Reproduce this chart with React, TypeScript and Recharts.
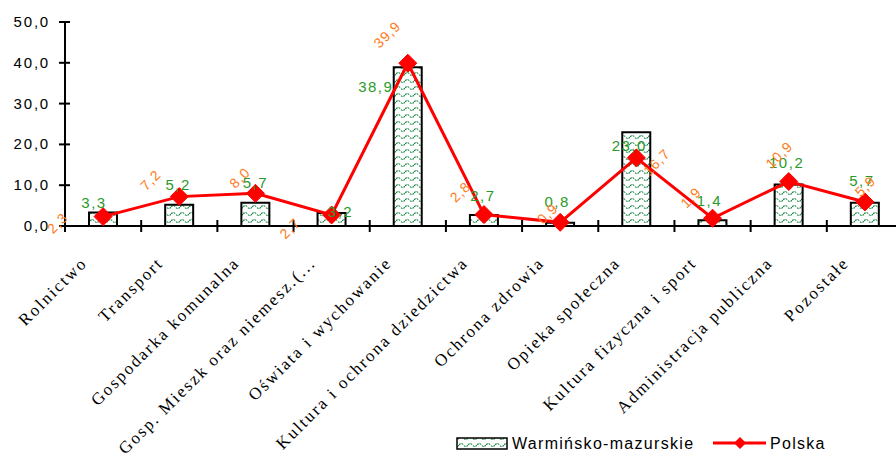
import React from 'react';
import { ComposedChart, Bar, Line, XAxis, YAxis } from 'recharts';

const categories = [
  'Rolnictwo',
  'Transport',
  'Gospodarka komunalna',
  'Gosp. Mieszk oraz niemesz.(...',
  'Oświata i wychowanie',
  'Kultura i ochrona dziedzictwa',
  'Ochrona zdrowia',
  'Opieka społeczna',
  'Kultura fizyczna i sport',
  'Administracja publiczna',
  'Pozostałe',
];
const wmValues = [3.3, 5.2, 5.7, 3.2, 38.9, 2.7, 0.8, 23.0, 1.4, 10.2, 5.7];
const plValues = [2.3, 7.2, 8.0, 2.7, 39.9, 2.8, 0.9, 16.7, 1.9, 10.9, 5.9];
const yTicks = [0, 10, 20, 30, 40, 50];
const seriesNames = ['Warmińsko-mazurskie', 'Polska'];

const data = categories.map((c, i) => ({ name: c, wm: wmValues[i], pl: plValues[i] }));

// label offsets (style only)
const greenOffsets = [[-9, -11], [-1, -21], [0, -21], [9, -2], [-32, 19], [-1, -20], [-3, -22], [-7, 13], [-3, -20], [-2, -22], [-3, -23]];
const orangeOffsets = [[-45, 7], [-28, -16], [-15, -15], [-41, 14], [-20, -28], [-23, -22], [-12, -8], [21, 5], [-21, -20], [-9, -26], [1, -15]];

const fmt = (v: number) => v.toFixed(1).replace('.', ',');
const BAND = 838 / 11;
const GREEN = '#2a9a2a';
const ORANGE = '#ff7a1a';
const SANS = 'Arial, "Liberation Sans", sans-serif';

const XTick = (props: any) => {
  const { x, y, payload } = props;
  return (
    <g>
      <line x1={x - BAND / 2} x2={x - BAND / 2} y1={y - 6} y2={y + 6} stroke="#000" strokeWidth={2} />
      <text
        x={x - 15}
        y={y + 38}
        transform={`rotate(-45 ${x - 15} ${y + 38})`}
        textAnchor="end"
        fontFamily='"Liberation Serif", "Times New Roman", serif'
        fontSize={17}
        letterSpacing={2}
        fill="#000"
      >
        {payload.value}
      </text>
    </g>
  );
};

const YTick = (props: any) => {
  const { x, y, payload } = props;
  return (
    <g>
      <line x1={x - 6} x2={x + 5} y1={y} y2={y} stroke="#000" strokeWidth={2} />
      <text x={x - 15} y={y + 5} textAnchor="end" fontFamily={SANS} fontSize={15} letterSpacing={1.8} fill="#000">
        {fmt(payload.value)}
      </text>
    </g>
  );
};

const barLabel = (props: any) => {
  const { x, y, width, value, index } = props;
  const o = greenOffsets[index] || [0, -21];
  return (
    <text
      key={`g${index}`}
      x={x + width / 2 + o[0]}
      y={y + o[1] + 6}
      textAnchor="middle"
      fontFamily={SANS}
      fontSize={15}
      letterSpacing={1.5}
      fill={GREEN}
    >
      {fmt(value)}
    </text>
  );
};

const lineLabel = (props: any) => {
  const { x, y, value, index } = props;
  const o = orangeOffsets[index] || [0, -15];
  const cx = x + o[0];
  const cy = y + o[1];
  return (
    <text
      key={`o${index}`}
      x={cx}
      y={cy + 4}
      transform={`rotate(-45 ${cx} ${cy})`}
      textAnchor="middle"
      fontFamily={SANS}
      fontSize={14}
      letterSpacing={1}
      fill={ORANGE}
    >
      {fmt(value)}
    </text>
  );
};

const Diamond = (props: any) => {
  const { cx, cy, index } = props;
  if (cx == null || cy == null) return null;
  return (
    <polygon
      key={`d${index}`}
      points={`${cx},${cy - 9} ${cx + 9},${cy} ${cx},${cy + 9} ${cx - 9},${cy}`}
      fill="#ff0000"
      stroke="#ff0000"
      strokeWidth={1}
    />
  );
};

const WavePattern = ({ id }: { id: string }) => (
  <pattern id={id} width={9} height={7} patternUnits="userSpaceOnUse">
    <rect width={9} height={7} fill="#ffffff" />
    <path d="M0 4 Q2.25 1 4.5 4 T9 4" fill="none" stroke="#1f8a4a" strokeWidth={1.2} strokeDasharray="2 1" />
  </pattern>
);

export default function App() {
  return (
    <div style={{ position: 'absolute', left: 0, top: 0, width: 896, height: 456, overflow: 'hidden', background: '#fff' }}>
      <ComposedChart width={904} height={456} data={data} margin={{ top: 22, right: 1, bottom: 0, left: 0 }}>
        <defs>
          <WavePattern id="wave" />
        </defs>
        <XAxis
          dataKey="name"
          height={230}
          interval={0}
          tickSize={0}
          tickMargin={0}
          tickLine={false}
          axisLine={{ stroke: '#000', strokeWidth: 2 }}
          tick={<XTick />}
        />
        <YAxis
          width={65}
          domain={[0, 50]}
          ticks={yTicks}
          tickSize={0}
          tickMargin={0}
          tickLine={false}
          axisLine={{ stroke: '#000', strokeWidth: 2 }}
          tick={<YTick />}
        />
        <Bar
          dataKey="wm"
          name={seriesNames[0]}
          barSize={28}
          fill="url(#wave)"
          stroke="#000"
          strokeWidth={2}
          isAnimationActive={false}
          label={barLabel}
        />
        <Line
          dataKey="pl"
          name={seriesNames[1]}
          stroke="#ff0000"
          strokeWidth={3}
          dot={<Diamond />}
          activeDot={false}
          isAnimationActive={false}
          label={lineLabel}
        />
      </ComposedChart>
      <svg width={896} height={456} style={{ position: 'absolute', left: 0, top: 0, pointerEvents: 'none' }}>
        <defs>
          <WavePattern id="wave2" />
        </defs>
        <rect x={457} y={438} width={50} height={11} fill="url(#wave2)" stroke="#000" strokeWidth={1.5} />
        <text x={512} y={449} fontFamily={SANS} fontSize={16} letterSpacing={1.3} fill="#000">{seriesNames[0]}</text>
        <line x1={713} x2={766} y1={443} y2={443} stroke="#ff0000" strokeWidth={3} />
        <polygon points="740,437 746,443 740,449 734,443" fill="#ff0000" />
        <text x={770} y={449} fontFamily={SANS} fontSize={16} letterSpacing={1.3} fill="#000">{seriesNames[1]}</text>
      </svg>
    </div>
  );
}
